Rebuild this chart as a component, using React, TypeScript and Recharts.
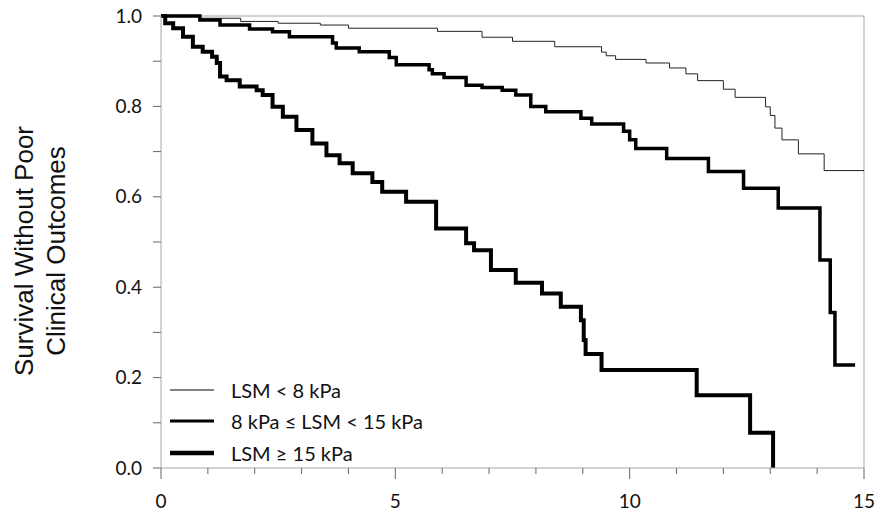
import { Line, LineChart, ReferenceLine, XAxis, YAxis } from "recharts";

// Kaplan-Meier curves (years vs. survival)
const lowTime = [0, 0.8, 1.7, 2.5, 3.4, 4.0, 5.9, 6.85, 7.5, 8.4, 9.4, 9.5, 9.7, 10.35, 10.85, 11.2, 11.45, 12.0, 12.25, 12.9, 13.0, 13.1, 13.25, 13.6, 14.15, 15];
const lowSurv = [1.0, 0.995, 0.988, 0.984, 0.98, 0.973, 0.966, 0.953, 0.944, 0.932, 0.92, 0.912, 0.904, 0.896, 0.885, 0.872, 0.857, 0.838, 0.82, 0.799, 0.78, 0.752, 0.726, 0.695, 0.658, 0.658];

const midTime = [0, 0.83, 1.26, 1.89, 2.38, 2.74, 3.66, 3.74, 4.23, 4.87, 5.02, 5.72, 5.79, 6.04, 6.51, 6.85, 7.28, 7.57, 7.89, 8.21, 8.96, 9.19, 9.87, 10.0, 10.13, 10.79, 11.68, 12.43, 13.17, 14.06, 14.28, 14.38, 14.81];
const midSurv = [1.0, 0.991, 0.98, 0.971, 0.965, 0.954, 0.94, 0.929, 0.921, 0.908, 0.892, 0.881, 0.872, 0.864, 0.847, 0.842, 0.836, 0.825, 0.8, 0.788, 0.774, 0.761, 0.745, 0.726, 0.707, 0.685, 0.656, 0.619, 0.575, 0.46, 0.344, 0.228, 0.228];

const highTime = [0, 0.09, 0.26, 0.47, 0.68, 0.89, 1.09, 1.19, 1.26, 1.4, 1.68, 2.04, 2.17, 2.38, 2.6, 2.89, 3.23, 3.53, 3.81, 4.09, 4.51, 4.72, 5.23, 5.87, 6.51, 6.68, 7.04, 7.57, 8.13, 8.53, 8.96, 9.02, 9.06, 9.4, 11.43, 12.57, 13.06];
const highSurv = [1.0, 0.984, 0.973, 0.954, 0.932, 0.921, 0.91, 0.896, 0.866, 0.858, 0.844, 0.836, 0.825, 0.799, 0.777, 0.748, 0.718, 0.692, 0.674, 0.652, 0.633, 0.611, 0.589, 0.53, 0.497, 0.482, 0.438, 0.41, 0.386, 0.357, 0.327, 0.283, 0.252, 0.217, 0.161, 0.078, 0.0];

const xTicks = [0, 1, 2, 3, 4, 5, 6, 7, 8, 9, 10, 11, 12, 13, 14, 15];
const yTicks = [0, 0.1, 0.2, 0.3, 0.4, 0.5, 0.6, 0.7, 0.8, 0.9, 1.0];

const legendItems = [
  { label: "LSM < 8 kPa", width: 1 },
  { label: "8 kPa \u2264 LSM < 15 kPa", width: 3 },
  { label: "LSM \u2265 15 kPa", width: 4.5 },
];

const zip = (t: number[], s: number[]) => t.map((v, i) => ({ t: v, s: s[i] }));

const AXIS = "#a6a6a6";
const TICK = "#666";
const FONT = "Lato, 'Open Sans', sans-serif";

function XTick({ x, y, payload }: any) {
  const v = payload.value;
  const major = v % 5 === 0;
  return (
    <g>
      <line x1={x} x2={x} y1={y} y2={y + (major ? 11 : 6)} stroke={TICK} />
      {major && (
        <text x={x} y={y + 40} textAnchor="middle" fontFamily={FONT} fontSize={19} fill="#111">
          {v}
        </text>
      )}
    </g>
  );
}

function YTick({ x, y, payload }: any) {
  const v = payload.value;
  const major = Math.round(v * 10) % 2 === 0;
  return (
    <g>
      <line x1={x - 8} x2={x} y1={y} y2={y} stroke={TICK} />
      {major && (
        <text x={x - 19} y={y} dy="0.35em" textAnchor="end" fontFamily={FONT} fontSize={19} fill="#111">
          {v.toFixed(1)}
        </text>
      )}
    </g>
  );
}

function LegendBox() {
  return (
    <div
      style={{
        position: "absolute",
        left: 170,
        top: 374,
        fontFamily: FONT,
        fontSize: 20,
        color: "#111",
      }}
    >
      {legendItems.map((it) => (
        <div key={it.label} style={{ display: "flex", alignItems: "center", height: 31.5 }}>
          <svg width={44} height={10} style={{ display: "block" }}>
            <line x1={0} x2={44} y1={5} y2={5} stroke="#000" strokeWidth={it.width} />
          </svg>
          <span style={{ marginLeft: 17, whiteSpace: "nowrap" }}>{it.label}</span>
        </div>
      ))}
    </div>
  );
}

export default function App() {
  return (
    <div style={{ position: "absolute", left: 0, top: 0, width: 879, height: 511, background: "#fff" }}>
      <LineChart width={879} height={511} margin={{ top: 16, right: 15, left: 0, bottom: 0 }}>
        <XAxis
          type="number"
          dataKey="t"
          domain={[0, 15]}
          ticks={xTicks}
          interval={0}
          allowDataOverflow
          height={43}
          stroke={AXIS}
          tickLine={false}
          tickSize={0}
          tickMargin={0}
          tick={<XTick />}
        />
        <YAxis
          type="number"
          dataKey="s"
          domain={[0, 1]}
          ticks={yTicks}
          interval={0}
          width={161}
          stroke={AXIS}
          tickLine={false}
          tickSize={0}
          tickMargin={0}
          tick={<YTick />}
        />
        <ReferenceLine y={1} stroke={AXIS} />
        <ReferenceLine x={15} stroke={AXIS} />
        <Line
          data={zip(lowTime, lowSurv)}
          dataKey="s"
          type="stepAfter"
          stroke="#222"
          strokeWidth={1}
          dot={false}
          isAnimationActive={false}
        />
        <Line
          data={zip(midTime, midSurv)}
          dataKey="s"
          type="stepAfter"
          stroke="#000"
          strokeWidth={3.5}
          dot={false}
          isAnimationActive={false}
        />
        <Line
          data={zip(highTime, highSurv)}
          dataKey="s"
          type="stepAfter"
          stroke="#000"
          strokeWidth={4}
          dot={false}
          isAnimationActive={false}
        />
        <g fontFamily="'Liberation Sans', Arial, sans-serif" fontSize={26} fill="#111">
          <text x={33} y={251} textAnchor="middle" transform="rotate(-90 33 251)">
            Survival Without Poor
          </text>
          <text x={65} y={251} textAnchor="middle" transform="rotate(-90 65 251)">
            Clinical Outcomes
          </text>
        </g>
      </LineChart>
      <LegendBox />
    </div>
  );
}
